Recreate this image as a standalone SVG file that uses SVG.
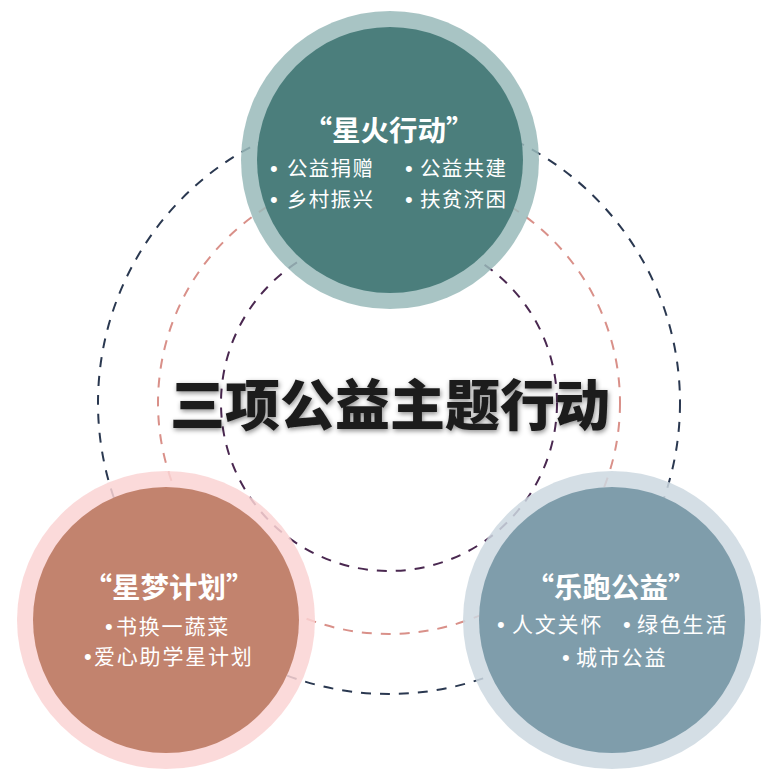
<svg xmlns="http://www.w3.org/2000/svg" width="780" height="780" viewBox="0 0 780 780">
<defs>
<filter id="sh" x="-10%" y="-30%" width="120%" height="160%">
<feGaussianBlur in="SourceAlpha" stdDeviation="2.5"/>
<feOffset dx="1" dy="2" result="b"/>
<feFlood flood-color="#000" flood-opacity="0.45"/>
<feComposite in2="b" operator="in"/>
<feMerge><feMergeNode/><feMergeNode in="SourceGraphic"/></feMerge>
</filter>
</defs>
<style>
.dash{fill:none;stroke-width:2;stroke-dasharray:10 9}
.ring{opacity:0.85}
.t{font-family:"Noto Sans CJK SC","Noto Sans",sans-serif;fill:#fff}
.m{text-anchor:middle}
.h{font-size:28.5px;font-weight:bold}
.b{font-size:20.5px;letter-spacing:1.3px}
.b2{font-size:21px;letter-spacing:1.8px}
.d{font-family:"Liberation Sans",Arial,sans-serif;font-size:22px}
.main{font-family:"Noto Sans CJK SC","Noto Sans",sans-serif;font-size:55px;font-weight:900;fill:#1c1c1c;text-anchor:middle}
</style>
<rect width="780" height="780" fill="#fff"/>
<g id="connectors">
<circle class="dash" cx="389" cy="403" r="291" stroke="#2a3850"/>
<circle class="dash" cx="389" cy="403" r="231" stroke="#d99089"/>
<circle class="dash" cx="389" cy="403" r="168" stroke="#4a2850"/>
</g>
<g id="center">
<text class="main" x="390" y="425" filter="url(#sh)">三项公益主题行动</text>
</g>
<g id="xinghuo">
<circle class="ring" cx="390" cy="160" r="149" fill="#99baba"/>
<circle cx="390" cy="160" r="133" fill="#4b7e7c"/>
<text class="t h m" x="389" y="141">“星火行动”</text>
<text class="t b" y="176"><tspan class="d" x="270">•</tspan><tspan x="287">公益捐赠</tspan></text>
<text class="t b" y="176"><tspan class="d" x="405">•</tspan><tspan x="420">公益共建</tspan></text>
<text class="t b" y="207"><tspan class="d" x="270">•</tspan><tspan x="287">乡村振兴</tspan></text>
<text class="t b" y="207"><tspan class="d" x="405">•</tspan><tspan x="420">扶贫济困</tspan></text>
</g>
<g id="xingmeng">
<circle class="ring" cx="166" cy="620" r="149" fill="#fad4d4"/>
<circle cx="166" cy="620" r="133" fill="#c2836e"/>
<text class="t h m" x="169" y="598">“星梦计划”</text>
<text class="t b2" y="634"><tspan class="d" x="105">•</tspan><tspan x="116">书换一蔬菜</tspan></text>
<text class="t b2" y="664"><tspan class="d" x="84">•</tspan><tspan x="94">爱心助学星计划</tspan></text>
</g>
<g id="lepao">
<circle class="ring" cx="612" cy="620" r="149" fill="#ccd8e0"/>
<circle cx="612" cy="620" r="133" fill="#7f9dab"/>
<text class="t h m" x="611" y="598">“乐跑公益”</text>
<text class="t b2" y="632"><tspan class="d" x="497">•</tspan><tspan x="512">人文关怀</tspan><tspan class="d" x="623">•</tspan><tspan x="637">绿色生活</tspan></text>
<text class="t b2" y="665"><tspan class="d" x="562">•</tspan><tspan x="576">城市公益</tspan></text>
</g>
</svg>
